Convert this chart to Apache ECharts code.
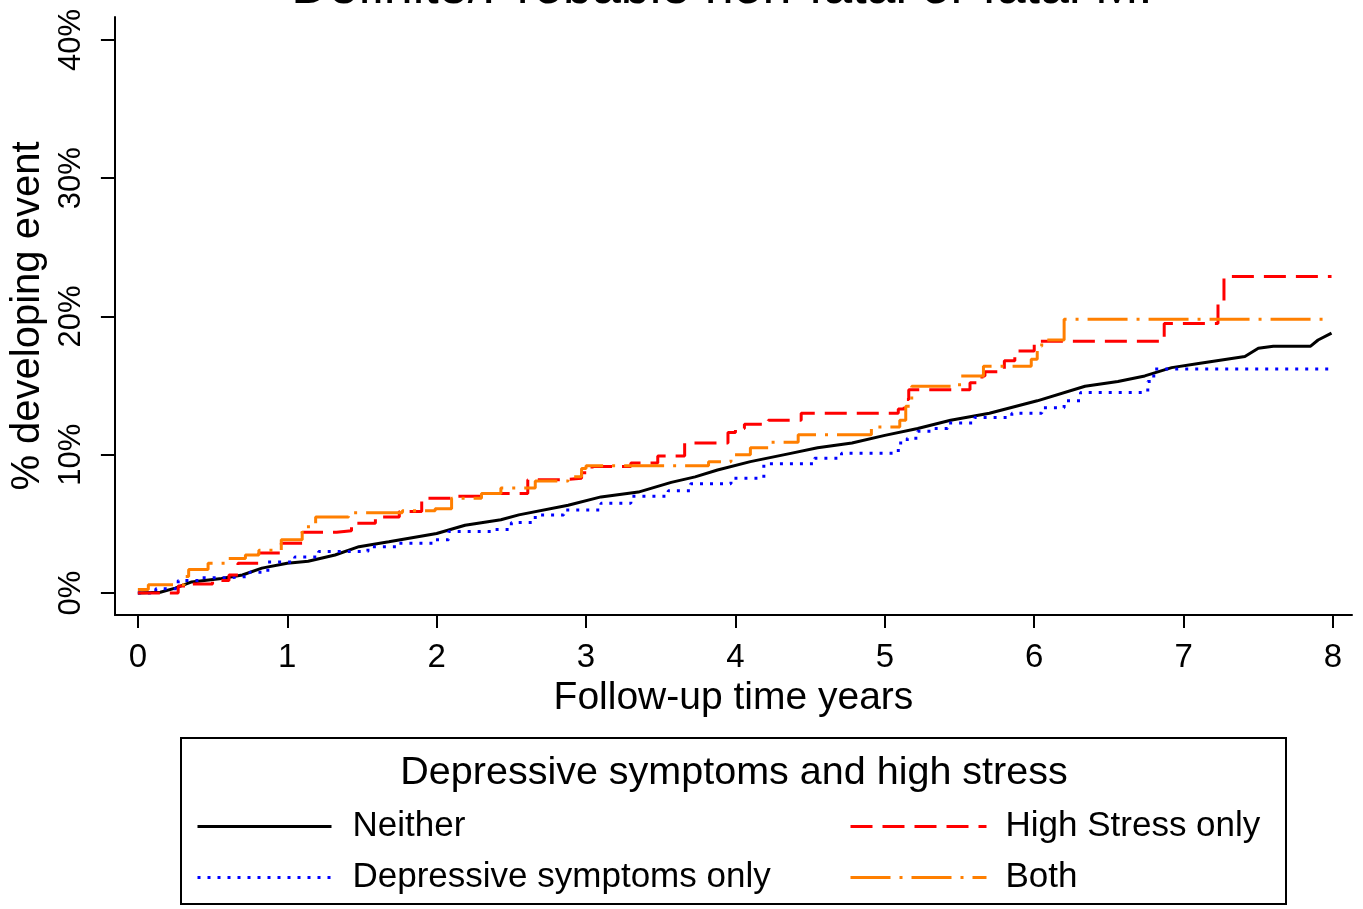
<!DOCTYPE html>
<html>
<head>
<meta charset="utf-8">
<script src="https://cdn.jsdelivr.net/npm/echarts@6/dist/echarts.min.js"></script>
<style>
html,body{margin:0;padding:0;background:#fff;}
#chart{width:1363px;height:909px;}
</style>
</head>
<body>
<div id="chart"></div>
<script>
// ---- data (years, % developing event) ----
const xTicks = [0, 1, 2, 3, 4, 5, 6, 7, 8];
const yTicks = [0, 10, 20, 30, 40];
const seriesNames = ['Neither', 'Depressive symptoms only', 'High Stress only', 'Both'];

const neither = [[0,0],[0.15,0.05],[0.25,0.35],[0.36,0.8],[0.56,1.05],[0.7,1.3],[0.83,1.8],[1.0,2.15],[1.14,2.3],[1.32,2.75],[1.48,3.35],[1.68,3.7],[2.0,4.3],[2.19,4.9],[2.43,5.3],[2.55,5.65],[2.88,6.35],[3.1,6.95],[3.35,7.3],[3.57,8.0],[3.73,8.4],[3.88,8.9],[4.1,9.5],[4.37,10.1],[4.55,10.5],[4.78,10.85],[5.0,11.4],[5.22,11.9],[5.44,12.5],[5.7,13.0],[6.02,13.9],[6.34,14.95],[6.56,15.3],[6.74,15.7],[6.92,16.3],[7.1,16.6],[7.41,17.1],[7.5,17.7],[7.6,17.85],[7.85,17.85],[7.9,18.3],[7.99,18.8]];

const depressive = [[0,0],[0.12,0.3],[0.27,0.9],[0.43,1.1],[0.6,1.2],[0.75,1.5],[0.87,2.25],[1.05,2.6],[1.21,3.0],[1.54,3.35],[1.75,3.6],[1.99,3.85],[2.08,4.45],[2.39,4.6],[2.5,5.1],[2.66,5.65],[2.85,6.0],[3.1,6.5],[3.3,7.0],[3.55,7.4],[3.7,7.9],[3.97,8.3],[4.19,9.35],[4.53,9.75],[4.71,10.1],[5.09,10.85],[5.15,11.2],[5.22,11.7],[5.31,11.9],[5.42,12.3],[5.6,12.7],[5.85,13.0],[6.05,13.4],[6.2,13.9],[6.31,14.5],[6.76,15.3],[6.8,16.2],[7.99,16.2]];

const highStress = [[0,0],[0.27,0.5],[0.34,0.65],[0.5,0.9],[0.61,1.3],[0.67,2.15],[0.81,2.9],[0.96,3.6],[1.1,4.4],[1.33,4.5],[1.43,5.05],[1.59,5.5],[1.75,5.9],[1.9,6.85],[2.14,7.0],[2.3,7.2],[2.61,8.2],[2.86,8.3],[2.97,8.7],[3.04,9.15],[3.3,9.4],[3.48,9.9],[3.66,10.85],[3.95,11.6],[4.0,11.9],[4.06,12.2],[4.22,12.5],[4.44,13.0],[5.09,13.3],[5.13,14.0],[5.16,14.7],[5.57,15.2],[5.65,15.7],[5.67,16.0],[5.8,16.8],[5.87,17.5],[6.0,18.2],[6.87,19.5],[7.23,20.9],[7.27,22.9],[7.99,22.9]];

const both = [[0,0.25],[0.07,0.6],[0.31,1.2],[0.34,1.7],[0.47,2.15],[0.6,2.5],[0.72,2.75],[0.81,3.1],[0.96,3.85],[1.1,4.8],[1.19,5.5],[1.41,5.8],[1.77,5.95],[1.99,6.1],[2.1,6.85],[2.3,7.2],[2.43,7.6],[2.66,8.1],[2.88,8.4],[2.97,9.0],[3.0,9.2],[3.82,9.5],[3.97,10.0],[4.1,10.5],[4.22,10.9],[4.42,11.45],[4.91,12.0],[5.1,12.5],[5.14,13.5],[5.18,14.95],[5.5,15.7],[5.66,16.4],[5.98,16.9],[6.02,17.85],[6.05,18.3],[6.2,19.8],[7.99,19.8]];

const FONT = '"Liberation Sans", Arial, sans-serif';
const chart = echarts.init(document.getElementById('chart'), null, {renderer: 'canvas'});

function lineSeries(name, data, color, type, step) {
  return {
    name: name, type: 'line', data: data, step: step,
    symbol: 'none', showSymbol: false, animation: false,
    lineStyle: {color: color, width: 3, type: type},
    itemStyle: {color: color}
  };
}

function legendBlock(names, left, textPad, iconW) {
  return {
    data: names,
    orient: 'vertical', left: left, top: 809, padding: 0,
    itemWidth: iconW, itemHeight: 34, itemGap: 16,
    itemStyle: {opacity: 0},
    lineStyle: {width: 3},
    textStyle: {fontFamily: FONT, fontSize: 35, color: '#000', padding: [0, 0, 0, textPad]},
    selectedMode: false
  };
}

const option = {
  backgroundColor: '#ffffff',
  animation: false,
  title: {
    text: 'Definite/Probable non-fatal or fatal MI',
    left: 722, textAlign: 'center', top: -37, padding: 0,
    textStyle: {fontFamily: FONT, fontSize: 52, fontWeight: 'normal', color: '#000'}
  },
  grid: {left: 113, right: 11, top: 17, bottom: 294, containLabel: false},
  xAxis: {
    type: 'value', min: -0.1537, max: 8.127,
    name: 'Follow-up time years', nameLocation: 'middle', nameGap: 58,
    nameTextStyle: {fontFamily: FONT, fontSize: 39, color: '#000'},
    splitLine: {show: false},
    axisLine: {show: true, onZero: false, lineStyle: {color: '#000', width: 2}},
    axisTick: {show: true, customValues: xTicks, length: 13, lineStyle: {color: '#000', width: 2}},
    axisLabel: {customValues: xTicks, margin: 26, fontFamily: FONT, fontSize: 33, color: '#000'}
  },
  yAxis: {
    type: 'value', min: -1.591, max: 41.66,
    name: '% developing event', nameLocation: 'middle', nameGap: 58, nameRotate: 90,
    nameTextStyle: {fontFamily: FONT, fontSize: 40, color: '#000'},
    splitLine: {show: false},
    axisLine: {show: true, onZero: false, lineStyle: {color: '#000', width: 2}},
    axisTick: {show: true, customValues: yTicks, length: 14, lineStyle: {color: '#000', width: 2}},
    axisLabel: {customValues: yTicks, rotate: 90, margin: 28, fontFamily: FONT, fontSize: 31, color: '#000',
      formatter: function (v) { return v + '%'; }}
  },
  legend: [
    legendBlock(['Neither', 'Depressive symptoms only'], 196, 16, 134),
    legendBlock(['High Stress only', 'Both'], 849, 14, 136)
  ],
  graphic: [
    {type: 'rect', shape: {x: 181, y: 738, width: 1105, height: 166},
     style: {fill: 'none', stroke: '#000', lineWidth: 2}, z: 0},
    {type: 'text', x: 734, y: 773,
     style: {text: 'Depressive symptoms and high stress', fontFamily: FONT, fontSize: 39.5, fill: '#000',
       textAlign: 'center', textVerticalAlign: 'middle'}}
  ],
  series: [
    lineSeries(seriesNames[0], neither, '#000000', 'solid', false),
    lineSeries(seriesNames[1], depressive, '#0000ff', [3, 7], 'end'),
    lineSeries(seriesNames[2], highStress, '#ff0000', [22, 10], 'end'),
    lineSeries(seriesNames[3], both, '#ff7f00', [40, 9, 3, 9], 'end')
  ]
};
chart.setOption(option);
</script>
</body>
</html>
